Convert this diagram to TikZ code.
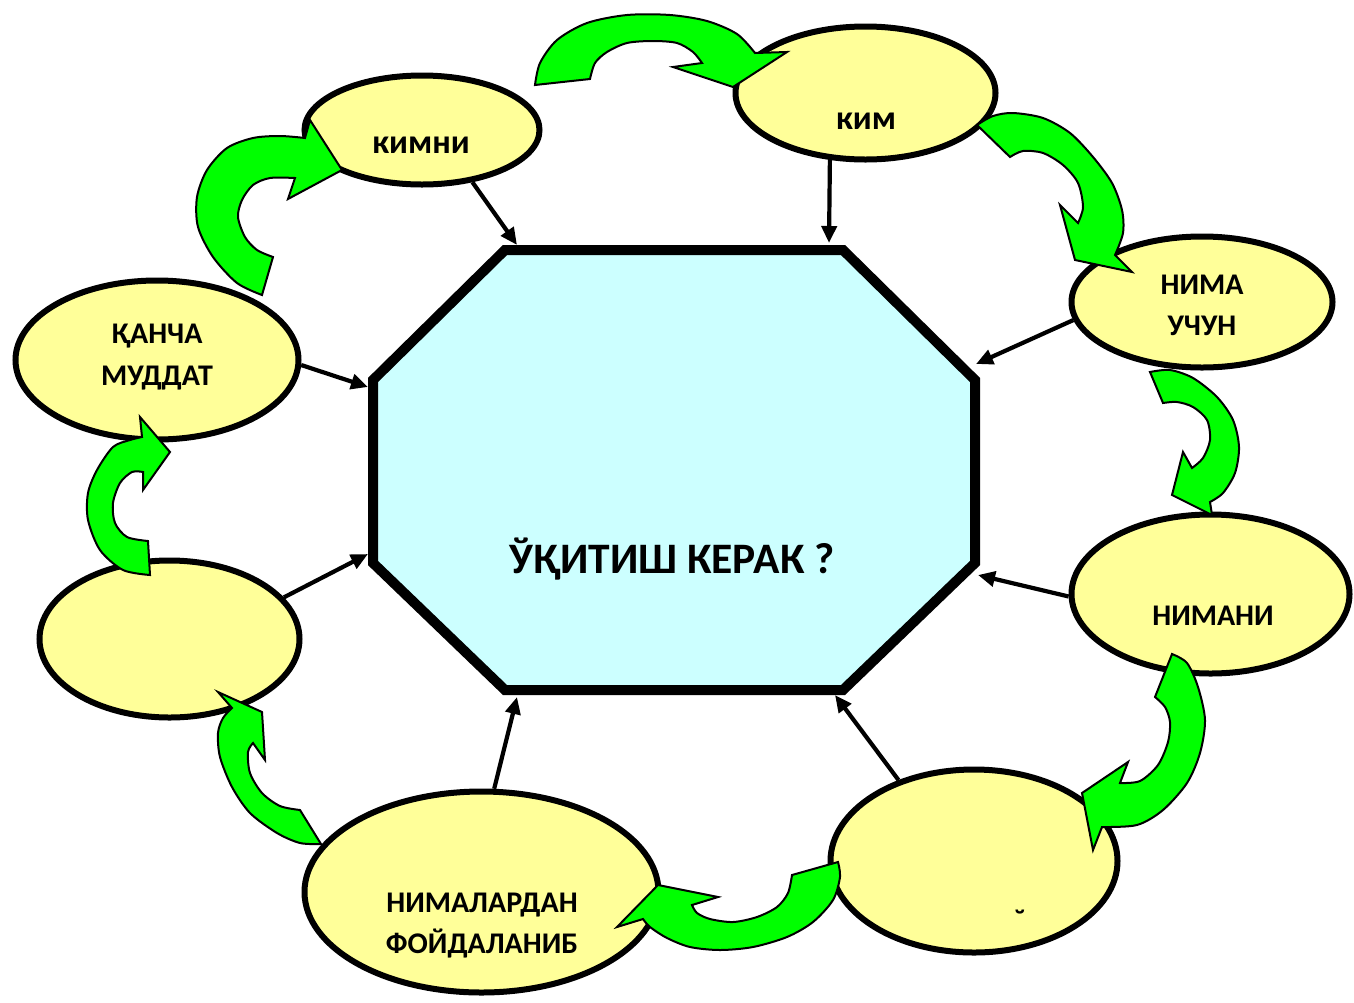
\documentclass[tikz,border=0pt]{standalone}
\usepackage{fontspec}
\setmainfont{Carlito}
\usetikzlibrary{shapes.geometric,arrows.meta}
\definecolor{ellfill}{HTML}{FFFF99}
\definecolor{octfill}{HTML}{CCFFFF}
\definecolor{arrgreen}{HTML}{00FF00}
\begin{document}
\begin{tikzpicture}[x=1pt,y=-1pt,
  ell/.style={ellipse, draw=black, line width=6pt, fill=ellfill, inner sep=0pt},
  lbl/.style={font=\bfseries\fontsize{30}{36}\selectfont, anchor=base, inner sep=0pt},
  lblbig/.style={font=\bfseries\fontsize{34}{40}\selectfont, anchor=base, inner sep=0pt},
  ttlstyle/.style={font=\bfseries\fontsize{43.5}{50}\selectfont, anchor=base, inner sep=0pt},
  conn/.style={line width=4.2pt, -{Triangle[length=17pt,width=15pt]}},
  garrow/.style={fill=arrgreen, draw=black, line width=2pt, line join=miter}]
\useasboundingbox (0,0) rectangle (1354,1002);
\fill[white] (0,0) rectangle (1354,1002);

% central octagon
\draw[line width=10pt, fill=octfill, line join=miter]
  (505,250) -- (843,250) -- (975,380) -- (975,563) -- (843,690) -- (505,690) -- (373,563) -- (373,380) -- cycle;
\coordinate (p1) at (517,245);
\coordinate (p2) at (829,243);
\coordinate (p3) at (976,364);
\coordinate (p4) at (978,575);
\coordinate (p5) at (835,695);
\coordinate (p6) at (517,697);
\coordinate (p7) at (368,554);
\coordinate (p8) at (368,387);

% ellipses
\node[ell, minimum width=235pt, minimum height=109pt] (e1) at (422,130) {};
\node[ell, minimum width=260pt, minimum height=133pt] (e2) at (865.5,93) {};
\node[ell, minimum width=261pt, minimum height=131pt] (e3) at (1202,302) {};
\node[ell, minimum width=278pt, minimum height=159pt] (e4) at (1210.5,594) {};
\node[ell, minimum width=287pt, minimum height=183pt] (e5) at (974,861) {};
\node[ell, minimum width=354pt, minimum height=201pt] (e6) at (481.5,892) {};
\node[ell, minimum width=260pt, minimum height=157pt] (e7) at (169.5,639) {};
\node[ell, minimum width=283pt, minimum height=159pt] (e8) at (157,360) {};

% straight connectors
\draw[conn] (e1.-46) -- (p1);
\draw[conn] (e2.-118.6) -- (p2);
\draw[conn] (e3.-172.3) -- (p3);
\draw[conn] (e4.181.6) -- (p4);
\draw[conn] (e5.133.6) -- (p5);
\draw[conn] (e6.83.9) -- (p6);
\draw[conn] (e7.20.5) -- (p7);
\draw[conn] (e8.-2.4) -- (p8);

% curved green arrows
\filldraw[garrow] plot[smooth] coordinates {(535,85) (540,63) (557,40) (587,23) (627,15) (670,15) (707,21) (737,34) (755,53)}
  -- (787,52) -- (733,87) -- (673,67)
  -- plot[smooth] coordinates {(702,63) (693,52) (677,43) (653,41) (627,43) (607,52) (595,63) (590,79)} -- cycle;
\filldraw[garrow] plot[smooth] coordinates {(977,125) (993,116) (1013,113) (1043,118) (1070,133) (1093,157) (1112,183) (1122,210) (1123,233) (1115,255)}
  -- (1132,272) -- (1075,260) -- (1060,205)
  -- plot[smooth] coordinates {(1078,223) (1083,207) (1078,183) (1063,165) (1043,153) (1023,151) (1010,157)} -- cycle;
\filldraw[garrow] plot[smooth] coordinates {(1150,372) (1170,370) (1193,378) (1217,397) (1233,420) (1239,447) (1235,473) (1223,493) (1210,502)}
  -- (1212,515) -- (1172,495) -- (1183,452)
  -- plot[smooth] coordinates {(1192,468) (1203,458) (1210,440) (1207,420) (1193,407) (1177,402) (1163,403)} -- cycle;
\filldraw[garrow] plot[smooth] coordinates {(1172,654) (1187,663) (1198,687) (1205,720) (1200,753) (1187,783) (1163,810) (1137,825) (1102,827)}
  -- (1093,850) -- (1082,793) -- (1128,762)
  -- plot[smooth] coordinates {(1120,783) (1140,781) (1158,765) (1168,742) (1170,722) (1165,707) (1155,697)} -- cycle;
\filldraw[garrow] plot[smooth] coordinates {(838,862) (840,877) (833,900) (813,922) (787,937) (753,947) (720,950) (690,947) (667,938) (650,927) (643,919)}
  -- (617,927) -- (658,885) -- (718,897)
  -- plot[smooth] coordinates {(692,905) (697,913) (710,919) (733,922) (757,917) (777,907) (788,893) (792,875)} -- cycle;
\filldraw[garrow] plot[smooth] coordinates {(321,844) (300,843) (277,833) (250,813) (232,787) (220,757) (218,733) (223,718) (232,708)}
  -- (218,692) -- (262,712) -- (265,760)
  -- plot[smooth] coordinates {(253,743) (248,752) (250,773) (262,793) (280,806) (300,810)} -- cycle;
\filldraw[garrow] plot[smooth] coordinates {(150,575) (123,570) (100,550) (88,520) (88,493) (97,470) (113,447) (130,440) (142,437)}
  -- (140,417) -- (170,452) -- (143,490)
  -- plot[smooth] coordinates {(143,472) (132,472) (120,483) (113,503) (115,523) (127,537) (148,541)} -- cycle;
\filldraw[garrow] plot[smooth] coordinates {(262,295) (237,283) (213,257) (198,227) (197,197) (207,170) (227,148) (253,138) (280,136) (305,138)}
  -- (310,120) -- (342,170) -- (288,199)
  -- plot[smooth] coordinates {(295,178) (270,178) (253,185) (242,200) (238,217) (245,237) (257,250) (273,257)} -- cycle;

% labels
\node[ttlstyle] (ttl) at (672,573) {ЎҚИТИШ КЕРАК ?};
\node[lblbig] (tk1) at (421,153) {кимни};
\node[lblbig] (tk2) at (866,129) {ким};
\node[lbl] (tn1) at (1202,294) {НИМА};
\node[lbl] (tn2) at (1202,335) {УЧУН};
\node[lbl] (tn3) at (1213,625) {НИМАНИ};
\node[lbl] (tf1) at (482,912) {НИМАЛАРДАН};
\node[lbl] (tf2) at (482,953) {ФОЙДАЛАНИБ};
\node[lbl] (tq1) at (157,343) {ҚАНЧА};
\node[lbl] (tq2) at (157,385) {МУДДАТ};
\node[lbl] (brv) at (1020,930) {˘};
\end{tikzpicture}
\end{document}
